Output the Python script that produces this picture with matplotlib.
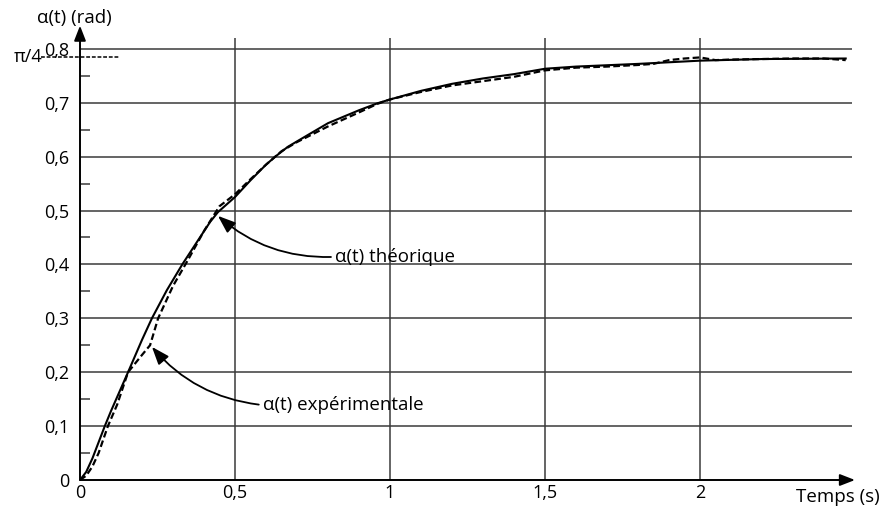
import numpy as np
import matplotlib
matplotlib.use("Agg")
import matplotlib.pyplot as plt

# data
t_theo = [0, 0.02, 0.04, 0.06, 0.08, 0.1, 0.155, 0.2, 0.232, 0.28, 0.33, 0.38,
          0.42, 0.445, 0.5, 0.55, 0.6, 0.63, 0.67, 0.72, 0.8, 0.9, 0.96, 1.0,
          1.1, 1.2, 1.3, 1.4, 1.5, 1.6, 1.8, 2.0, 2.2, 2.47]
a_theo = [0, 0.015, 0.04, 0.07, 0.1, 0.128, 0.2, 0.26, 0.3, 0.352, 0.4, 0.444,
          0.479, 0.497, 0.525, 0.556, 0.585, 0.6, 0.618, 0.635, 0.662, 0.686,
          0.699, 0.706, 0.722, 0.735, 0.745, 0.753, 0.763, 0.767, 0.772, 0.778,
          0.781, 0.782]

t_exp = [0, 0.02, 0.04, 0.06, 0.09, 0.12, 0.155, 0.2, 0.226, 0.252, 0.3, 0.35,
         0.4, 0.45, 0.5, 0.55, 0.6, 0.65, 0.7, 0.8, 0.9, 0.96, 1.0, 1.1, 1.2,
         1.3, 1.4, 1.5, 1.6, 1.7, 1.8, 1.85, 1.9, 1.95, 2.0, 2.05, 2.1, 2.2,
         2.3, 2.4, 2.47]
a_exp = [0, 0.008, 0.025, 0.05, 0.1, 0.14, 0.2, 0.232, 0.25, 0.3, 0.36, 0.41,
         0.462, 0.508, 0.53, 0.558, 0.585, 0.61, 0.627, 0.656, 0.682, 0.698,
         0.706, 0.72, 0.732, 0.74, 0.748, 0.76, 0.765, 0.767, 0.77, 0.772,
         0.779, 0.782, 0.784, 0.779, 0.78, 0.781, 0.782, 0.782, 0.779]

x_ticks = [0, 0.5, 1, 1.5, 2]
x_labels = ["0", "0,5", "1", "1,5", "2"]
y_ticks = [0, 0.1, 0.2, 0.3, 0.4, 0.5, 0.6, 0.7, 0.8]
y_labels = ["0", "0,1", "0,2", "0,3", "0,4", "0,5", "0,6", "0,7", "0,8"]
y_minor = [0.05, 0.15, 0.25, 0.35, 0.45, 0.55, 0.65, 0.75]


def main():
    plt.rcParams['font.family'] = ['Open Sans', 'DejaVu Sans']
    W, H = 885, 509
    fig = plt.figure(figsize=(W / 100, H / 100), dpi=100)
    xmax, ymax = 2.52, 0.86
    px_x, px_y = 310.0, 539.0   # pixels per unit
    ax = fig.add_axes([80 / W, 29 / H, xmax * px_x / W, ymax * px_y / H])
    ax.set_xlim(0, xmax)
    ax.set_ylim(0, ymax)
    for s in ax.spines.values():
        s.set_visible(False)

    grid_c = "#3a3a3a"
    ax.hlines(y_ticks[1:], 0, 2.49, color=grid_c, lw=1.1)
    ax.vlines(x_ticks[1:], 0, 0.82, color=grid_c, lw=1.1)

    # axes with arrows
    head = "-|>,head_length=0.9,head_width=0.35"
    ax.annotate("", xy=(2.50, 0), xytext=(0, 0),
                arrowprops=dict(arrowstyle=head, color="black", lw=1.4,
                                shrinkA=0, shrinkB=0),
                annotation_clip=False)
    ax.annotate("", xy=(0, 0.843), xytext=(0, 0),
                arrowprops=dict(arrowstyle=head, color="black", lw=1.4,
                                shrinkA=0, shrinkB=0),
                annotation_clip=False)

    ax.set_xticks(x_ticks)
    ax.set_xticklabels(x_labels)
    ax.set_yticks(y_ticks)
    ax.set_yticklabels(y_labels)
    ax.set_yticks(y_minor, minor=True)
    ax.tick_params(axis="both", which="major", length=0, labelsize=13,
                   colors="black")
    ax.tick_params(axis="x", pad=3)
    ax.tick_params(axis="y", pad=8)
    ax.tick_params(axis="y", which="minor", direction="in", length=7,
                   width=1.1, color=grid_c)

    # curves
    ax.plot(t_theo, a_theo, color="black", lw=1.5)
    ax.plot(t_exp, a_exp, color="black", lw=1.6, ls=(0, (3, 1.5)))

    # pi/4 mark
    ax.plot([-0.125, 0.13], [np.pi / 4, np.pi / 4], color="black", lw=1.1,
            ls=(0, (2.5, 1.2)), clip_on=False)
    ax.text(-0.122, np.pi / 4, "π/4", ha="right", va="center", fontsize=13)

    fig.text(37 / W, 1 - 18 / H, "α(t) (rad)", ha="left", va="center",
             fontsize=13.5)
    fig.text(880 / W, 1 - 497 / H, "Temps (s)", ha="right", va="center",
             fontsize=13.5)

    # annotations
    arrow = dict(arrowstyle="-|>,head_length=0.8,head_width=0.3",
                 color="black", lw=1.3, shrinkA=3, shrinkB=0, patchA=None,
                 relpos=(0, 0.5), connectionstyle="arc3,rad=-0.2")
    ax.annotate("α(t) théorique", xy=(0.445, 0.49), xytext=(0.823, 0.414),
                ha="left", va="center", fontsize=13.5, arrowprops=arrow)
    ax.annotate("α(t) expérimentale", xy=(0.232, 0.247), xytext=(0.59, 0.139),
                ha="left", va="center", fontsize=13.5, arrowprops=arrow)

    fig.savefig("out.png", dpi=100)


if __name__ == '__main__':
    main()
